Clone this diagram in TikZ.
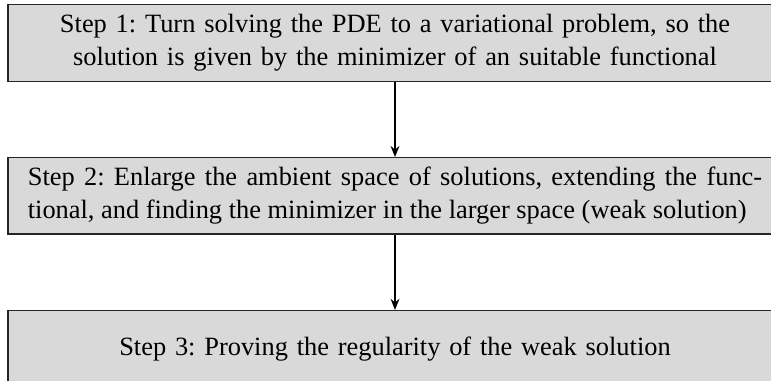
\documentclass[tikz,border=0pt]{standalone}
\usepackage{fontspec}
\setmainfont{Liberation Serif}
\usepackage{tikz}
\usetikzlibrary{arrows.meta, positioning}
\frenchspacing

\begin{document}
\begin{tikzpicture}[
  x=0.3636pt, y=0.3636pt,
  stepbox/.style={draw=black!85, line width=0.5pt, fill=black!15,
    text width=267pt, inner xsep=7.2pt, minimum height=27.8pt,
    align=center, font=\fontsize{9.6}{12}\selectfont},
  arr/.style={-{Stealth[length=4pt, width=3.2pt]}, line width=0.6pt},
  node distance=27.3pt
]
  \useasboundingbox (0,0) rectangle (771,-381);

  % Step 1
  \node[stepbox] (s1) at (395,-43)
    {Step 1: Turn solving the PDE to a variational problem, so the
     solution is given by the minimizer of an suitable functional};

  % Step 2 (justified, broken as in the source)
  \node[stepbox, align=justify, below=of s1] (s2)
    {\parfillskip=0pt Step 2: Enlarge the ambient space of solutions,
     extending the func-\linebreak tional, and finding the minimizer
     in the larger space (weak solution)};

  % Step 3
  \node[stepbox, below=of s2] (s3)
    {Step 3: Proving the regularity of the weak solution};

  % Flow
  \draw[arr] (s1) -- (s2);
  \draw[arr] (s2) -- (s3);
\end{tikzpicture}
\end{document}
